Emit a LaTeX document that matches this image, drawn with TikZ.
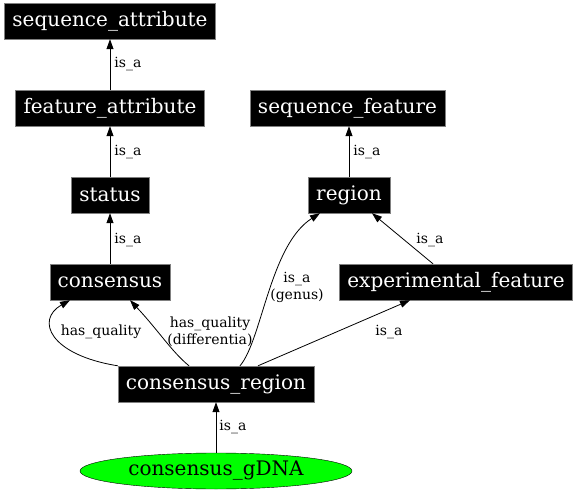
\documentclass[tikz,border=0pt]{standalone}
\usepackage{fontspec}
\setmainfont{DejaVu Serif}
\usepackage{tikz}
\usetikzlibrary{arrows.meta,shapes.geometric}

\tikzset{
  term/.style={rectangle,fill=black,draw=gray,text=white,inner xsep=8pt,
    minimum height=36pt,font=\fontsize{20}{22}\selectfont},
  leaf/.style={ellipse,fill=green,draw=black,inner sep=0pt,minimum width=272pt,
    minimum height=36pt,font=\fontsize{20}{22}\selectfont},
  edge/.style={-{Triangle[length=10pt,width=7pt]},line width=0.8pt},
  lbl/.style={font=\fontsize{14}{17}\selectfont,inner sep=1pt,align=center}
}

\begin{document}
\begin{tikzpicture}[x=1pt,y=-1pt]
  \useasboundingbox (0,0) rectangle (576,500);
  \node (sa) at (110,21) [term] {sequence\_attribute};
  \node (fa) at (110,108) [term] {feature\_attribute};
  \node (sf) at (347.5,108) [term] {sequence\_feature};
  \node (st) at (110,195) [term] {status};
  \node (rg) at (349,195) [term] {region};
  \node (cn) at (110,282) [term] {consensus};
  \node (ef) at (456,282) [term] {experimental\_feature};
  \node (cr) at (216,384) [term] {consensus\_region};
  \node (gd) at (216,471) [leaf] {consensus\_gDNA};

  \draw[edge] (fa) -- (sa);
  \node (l1) at (128,64) [lbl] {is\_a};
  \draw[edge] (st) -- (fa);
  \node (l2) at (128,152) [lbl] {is\_a};
  \draw[edge] (cn) -- (st);
  \node (l3) at (128,240) [lbl] {is\_a};
  \draw[edge] (rg.north) -- (rg.north |- sf.south);
  \node (l4) at (367,152) [lbl] {is\_a};
  \draw[edge] ([xshift=-23pt]ef.north) -- ([xshift=23pt]rg.south);
  \node (l5) at (430,240) [lbl] {is\_a};
  \draw[edge] ([xshift=42pt]cr.north) -- ([xshift=-46pt]ef.south);
  \node (l6) at (389,332) [lbl] {is\_a};
  \draw[edge] ([xshift=24pt]cr.north) .. controls (262,340) and (270,245) .. ([xshift=-29pt]rg.south);
  \node (l7) at (297,287) [lbl] {is\_a\\(genus)};
  \draw[edge] ([xshift=-27pt]cr.north) .. controls (172,352) and (158,330) .. ([xshift=20pt]cn.south);
  \node (l8) at (210,332) [lbl] {has\_quality\\(differentia)};
  \draw[edge] (cr.north west) .. controls (50,355) and (35,320) .. ([xshift=-40pt]cn.south);
  \node (l9) at (101,332) [lbl] {has\_quality};
  \draw[edge] (gd) -- (cr);
  \node (l10) at (233,427) [lbl] {is\_a};
\end{tikzpicture}
\end{document}
